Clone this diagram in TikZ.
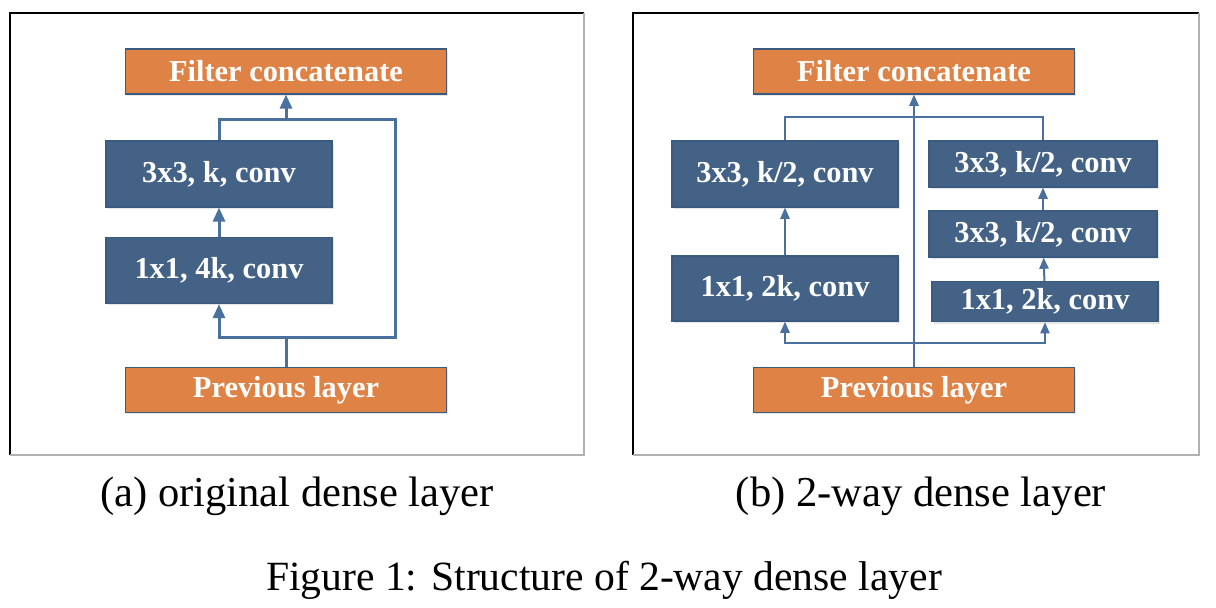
\documentclass[tikz,border=0pt]{standalone}
\usepackage{fontspec}
\setmainfont{Liberation Serif}
\usetikzlibrary{arrows.meta,shadows}
\definecolor{layerorange}{HTML}{DF8245}
\definecolor{convblue}{HTML}{436286}
\definecolor{boxedge}{HTML}{3A5A80}
\definecolor{flowblue}{HTML}{4A709D}

\begin{document}
\begin{tikzpicture}[x=0.5pt,y=-0.5pt,
    box/.style={draw=boxedge,line width=0.6pt,text=white,inner sep=0pt,
      font=\bfseries\fontsize{15.2}{18}\selectfont,
      drop shadow={shadow xshift=0.8pt,shadow yshift=-1pt,opacity=0.2}},
    layer/.style={box,fill=layerorange,minimum width=160.5pt,minimum height=22.5pt},
    conv/.style={box,fill=convblue},
    thickflow/.style={flowblue,line width=1.5pt},
    thinflow/.style={flowblue,line width=1pt},
    bigtip/.style={-{Triangle[width=6pt,length=7pt]}},
    smalltip/.style={-{Triangle[width=4.6pt,length=5.6pt]}},
    caption/.style={font=\fontsize{21.3}{25}\selectfont,anchor=base}]
                    \useasboundingbox (0,0) rectangle (1216,608);
                    \draw[black,line width=1pt] (10,455) -- (10,13) -- (584,13);
                    \draw[black!30,line width=0.6pt] (584,13) -- (584,455) -- (10,455);
                    \draw[black,line width=1pt] (633,455) -- (633,13) -- (1199,13);
                    \draw[black!30,line width=0.6pt] (1199,13) -- (1199,455) -- (633,455);
                    % (a) original dense layer
                    \node[layer] (lcat) at (286,71.5) {Filter concatenate};
                    \node[conv,minimum width=113pt,minimum height=33pt] (l3) at (219,174) {3x3, k, conv};
                    \node[conv,minimum width=113pt,minimum height=33pt] (l1) at (219,270.5) {1x1, 4k, conv};
                    \node[layer] (lprev) at (286,390) {Previous layer};
                    \coordinate (lsplit) at (286,337.5);
                    \coordinate (ljoin) at (286,119.5);
                    \coordinate (lskip) at (395,119.5);
                    \draw[thickflow] (lprev) -- (lsplit);
                    \draw[thickflow,bigtip] (lsplit) -| (l1);
                    \draw[thickflow] (lsplit) -| (lskip) -- (ljoin);
                    \draw[thickflow,bigtip] (l1) -- (l3);
                    \draw[thickflow] (l3) |- (ljoin);
                    \draw[thickflow,bigtip] (ljoin) -- (lcat);
                    % (b) 2-way dense layer
                    \node[layer] (rcat) at (914,71.5) {Filter concatenate};
                    \node[conv,minimum width=113pt,minimum height=33pt] (ra3) at (785,174) {3x3, k/2, conv};
                    \node[conv,minimum width=113pt,minimum height=32.5pt] (ra1) at (785,288.5) {1x1, 2k, conv};
                    \node[conv,minimum width=114pt,minimum height=23pt] (rb3) at (1043,164) {3x3, k/2, conv};
                    \node[conv,minimum width=114pt,minimum height=23pt] (rb2) at (1043,234) {3x3, k/2, conv};
                    \node[conv,minimum width=113pt,minimum height=20pt] (rb1) at (1045,301.7) {1x1, 2k, conv};
                    \node[layer] (rprev) at (914,390) {Previous layer};
                    \coordinate (rsplit) at (914,342.7);
                    \coordinate (rjoin) at (914,116.7);
                    \draw[thinflow,smalltip] (rprev) -- (rcat);
                    \draw[thinflow,smalltip] (rsplit) -| (ra1);
                    \draw[thinflow,smalltip] (rsplit) -| (rb1);
                    \draw[thinflow,smalltip] (ra1) -- (ra3);
                    \draw[thinflow,smalltip] (rb1) -- (rb2);
                    \draw[thinflow,smalltip] (rb2) -- (rb3);
                    \draw[thinflow] (ra3) |- (rjoin) -| (rb3);
                    % captions
                    \node[caption] (capa) at (297,507) {(a) original dense layer};
                    \node[caption] (capb) at (921,507) {(b) 2-way dense layer};
                    \node[caption,font=\fontsize{20.8}{25}\selectfont] (figcap) at (604,591) {Figure 1: Structure of 2-way dense layer};
                \end{tikzpicture}
\end{document}
